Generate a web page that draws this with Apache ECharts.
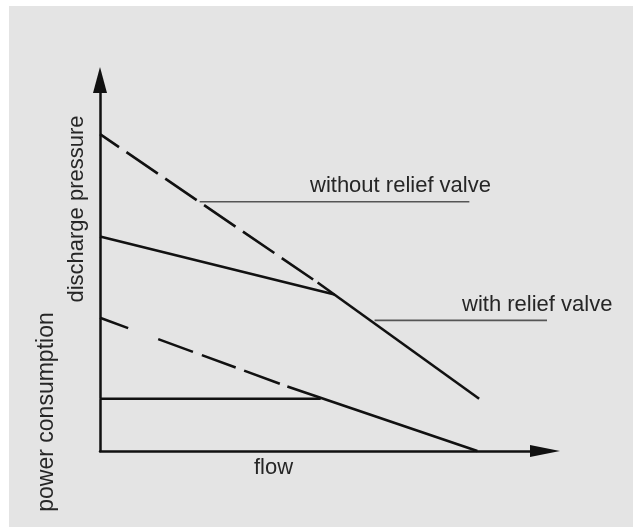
<!DOCTYPE html>
<html>
<head>
<meta charset="utf-8">
<title>discharge pressure / power consumption vs flow</title>
<script src="https://cdn.jsdelivr.net/npm/echarts@6.0.0/dist/echarts.min.js"></script>
<style>
  html, body { margin: 0; padding: 0; background: #fff; }
  #wrap { position: relative; width: 633px; height: 529px; }
  #panel { position: absolute; left: 9px; top: 6px; right: 0; bottom: 2px; background: #e4e4e4; }
  #chart { position: absolute; left: 0; top: 0; width: 633px; height: 529px; }
</style>
</head>
<body>
<div id="wrap">
  <div id="panel"></div>
  <div id="chart"></div>
</div>
<script>
// flow on x (0..100), pressure / power on y (0..100)
const withoutReliefDashed = [[0, 85.4], [48.9, 45.4]];
const sharedSteep = [[48.9, 45.4], [85.2, 14.1]];
const withRelief = [[0, 57.8], [52.7, 42.2]];
const powerWithoutDashed = [[0, 35.9], [42.1, 17.4]];
const powerWithoutSolid = [[42.1, 17.4], [84.8, 0]];
const powerWithRelief = [[0, 14.1], [49.6, 14.1]];
const powerLeader = [[-7.5, 14.1], [0, 14.1]];
const leaderWithout = [[22.4, 67.2], [83.0, 67.2]];
const leaderWith = [[61.7, 35.2], [111, 35.2]];

const labelWithout = 'without relief valve';
const labelWith = 'with relief valve';
const labelFlow = 'flow';
const labelPressure = 'discharge pressure';
const labelPower = 'power consumption';

const FONT = '"Liberation Sans", Arial, Helvetica, sans-serif';
const TEXT_COLOR = '#262626';
const INK = '#111';
const LEADER = '#555';

const chart = echarts.init(document.getElementById('chart'), null, { renderer: 'canvas' });

function curve(data, width, color, type, offset) {
  return {
    type: 'line',
    data: data,
    symbol: 'none',
    clip: false,
    silent: true,
    animation: false,
    lineStyle: {
      color: color,
      width: width,
      type: type || 'solid',
      dashOffset: offset || 0,
      cap: 'butt'
    }
  };
}

function label(text, x, y, size, rotate) {
  return {
    type: 'text',
    x: x,
    y: y,
    rotation: rotate ? Math.PI / 2 : 0,
    silent: true,
    style: {
      text: text,
      fill: TEXT_COLOR,
      font: size + 'px ' + FONT,
      textAlign: rotate ? 'center' : 'left',
      textVerticalAlign: 'middle',
      align: rotate ? 'center' : 'left',
      verticalAlign: 'middle'
    }
  };
}

chart.setOption({
  backgroundColor: 'transparent',
  animation: false,
  grid: { left: 100, right: 88, top: 80, bottom: 78 },
  xAxis: {
    type: 'value',
    min: 0,
    max: 100,
    axisLine: {
      lineStyle: { color: INK, width: 2.5 },
      symbol: ['none', 'triangle'],
      symbolSize: [12, 30]
    },
    axisTick: { show: false },
    axisLabel: { show: false },
    splitLine: { show: false }
  },
  yAxis: {
    type: 'value',
    min: 0,
    max: 100,
    axisLine: {
      show: true,
      lineStyle: { color: INK, width: 2.5 },
      symbol: ['none', 'triangle'],
      symbolSize: [14, 26]
    },
    axisTick: { show: false },
    axisLabel: { show: false },
    splitLine: { show: false }
  },
  series: [
    curve(leaderWithout, 1.6, LEADER),
    curve(leaderWith, 1.6, LEADER),
    curve(powerLeader, 1.6, LEADER),
    curve(withoutReliefDashed, 2.6, INK, [38, 9], 15),
    curve(sharedSteep, 2.6, INK),
    curve(withRelief, 2.6, INK),
    curve(powerWithoutDashed, 2.6, INK, [30, 32, 37, 9.5, 36, 9, 38, 9], 0),
    curve(powerWithoutSolid, 2.6, INK),
    curve(powerWithRelief, 2.6, INK)
  ],
  graphic: [
    label(labelWithout, 310, 185.5, 22),
    label(labelWith, 462, 304.5, 22),
    label(labelFlow, 254, 467.5, 22),
    label(labelPressure, 77, 209, 22, true),
    label(labelPower, 47, 412, 23, true)
  ]
});
</script>
</body>
</html>
